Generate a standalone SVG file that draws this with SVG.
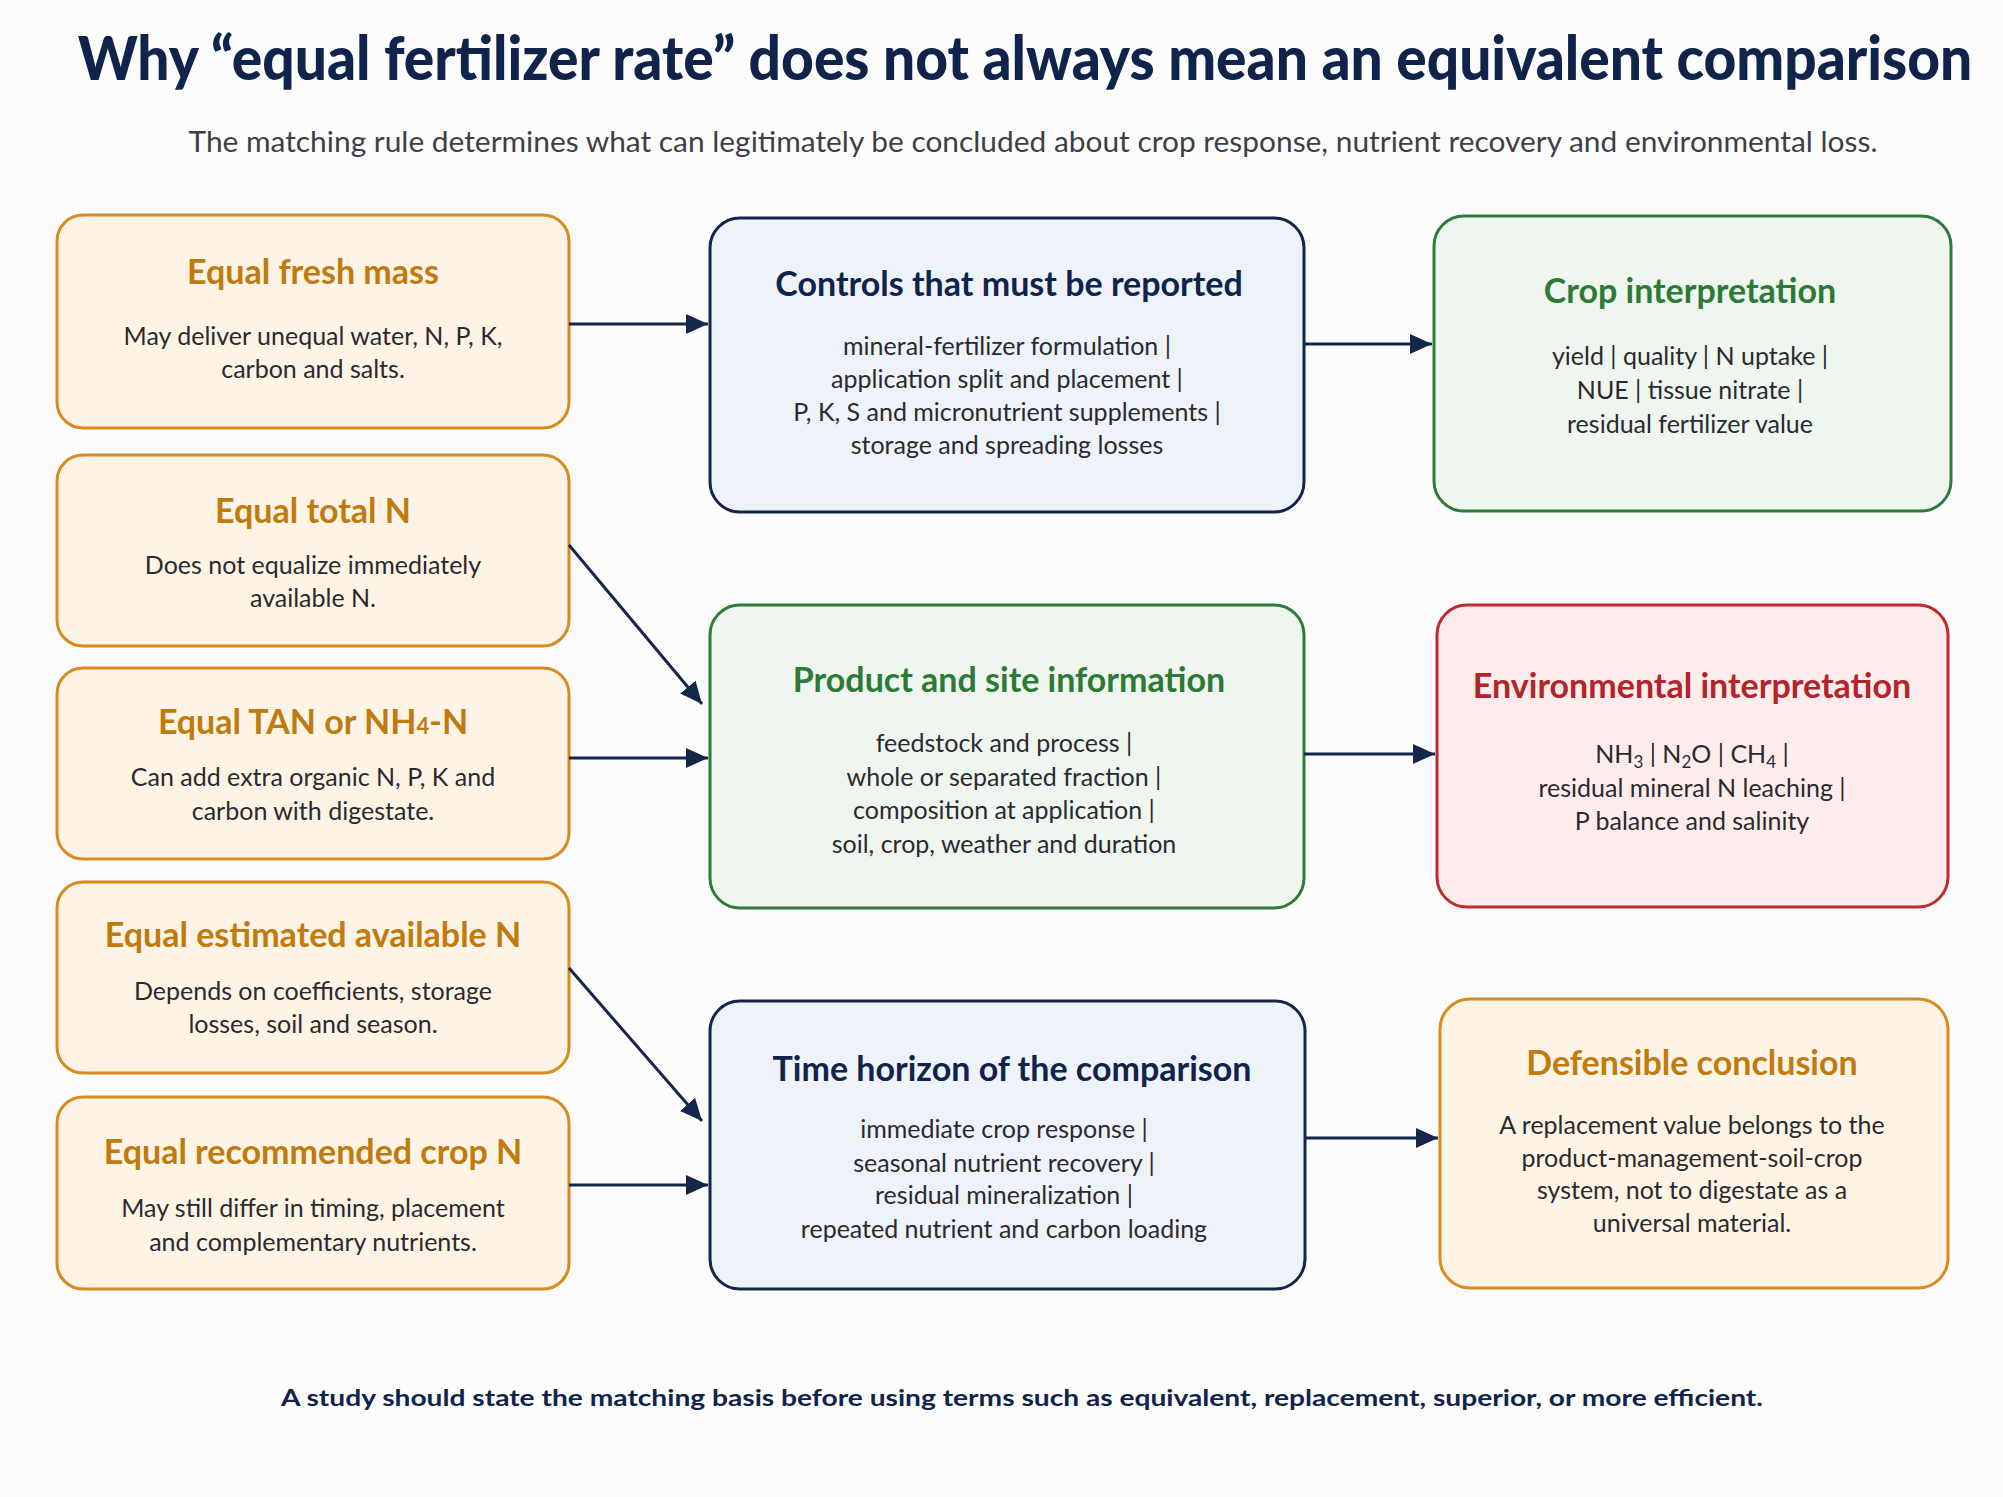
<svg xmlns="http://www.w3.org/2000/svg" width="2003" height="1497" viewBox="0 0 2003 1497">
<defs>
<marker id="ah" markerUnits="userSpaceOnUse" markerWidth="22" markerHeight="20" refX="22" refY="10" orient="auto">
<path d="M0,0 L22,10 L0,20 z" fill="#14264a"/>
</marker>
<style>
.main{font-family:Lato,"Liberation Sans",sans-serif;font-weight:900;fill:#10234a}
.sub{font-family:Lato,"Liberation Sans",sans-serif;font-size:29px;fill:#3c3f46}
.foot{font-family:Lato,"Liberation Sans",sans-serif;font-weight:700;font-size:22px;fill:#10234a}
.orange rect{fill:#fdf4e6;stroke:#d88b1e;stroke-width:3}
.blue rect{fill:#eef2f9;stroke:#15254a;stroke-width:3}
.green rect{fill:#eef6ef;stroke:#2e7a3c;stroke-width:3}
.red rect{fill:#fcedec;stroke:#bf2a30;stroke-width:3}
.t{font-family:Lato,"Liberation Sans",sans-serif;font-weight:700;font-size:34px;text-anchor:middle}
.orange .t{fill:#c07a0e}
.blue .t{fill:#10234a}
.green .t{fill:#2c7a35}
.red .t{fill:#b3232b}
.b{font-family:Lato,"Liberation Sans",sans-serif;font-size:25px;fill:#2a2a2e;text-anchor:middle}
.conn line{stroke:#14264a;stroke-width:3;marker-end:url(#ah)}
</style>
</defs>
<rect x="0" y="0" width="2003" height="1497" fill="#fcfcfc"/>
<text class="main" transform="matrix(0.86 0 0 1 1025 80)" x="0" y="0" font-size="60" text-anchor="middle" textLength="2203" lengthAdjust="spacingAndGlyphs">Why “equal fertilizer rate” does not always mean an equivalent comparison</text>
<text class="sub" x="1033" y="152" text-anchor="middle" textLength="1689" lengthAdjust="spacingAndGlyphs">The matching rule determines what can legitimately be concluded about crop response, nutrient recovery and environmental loss.</text>

<g id="n-fresh" class="orange">
<rect x="57" y="215" width="512" height="213" rx="26"/>
<text class="t" x="313" y="284">Equal fresh mass</text>
<text class="b" x="313" y="345">May deliver unequal water, N, P, K,</text>
<text class="b" x="313" y="378">carbon and salts.</text>
</g>
<g id="n-total" class="orange">
<rect x="57" y="455" width="512" height="191" rx="26"/>
<text class="t" x="313" y="523">Equal total N</text>
<text class="b" x="313" y="574">Does not equalize immediately</text>
<text class="b" x="313" y="607">available N.</text>
</g>
<g id="n-tan" class="orange">
<rect x="57" y="668" width="512" height="191" rx="26"/>
<text class="t" x="313" y="734">Equal TAN or NH<tspan font-size="22">4</tspan>-N</text>
<text class="b" x="313" y="786">Can add extra organic N, P, K and</text>
<text class="b" x="313" y="820">carbon with digestate.</text>
</g>
<g id="n-avail" class="orange">
<rect x="57" y="882" width="512" height="191" rx="26"/>
<text class="t" x="313" y="947" font-size="33">Equal estimated available N</text>
<text class="b" x="313" y="1000">Depends on coefficients, storage</text>
<text class="b" x="313" y="1033">losses, soil and season.</text>
</g>
<g id="n-rec" class="orange">
<rect x="57" y="1097" width="512" height="192" rx="26"/>
<text class="t" x="313" y="1164" font-size="33">Equal recommended crop N</text>
<text class="b" x="313" y="1217">May still differ in timing, placement</text>
<text class="b" x="313" y="1251">and complementary nutrients.</text>
</g>

<g id="n-controls" class="blue">
<rect x="710" y="218" width="594" height="294" rx="30"/>
<text class="t" x="1009" y="296">Controls that must be reported</text>
<text class="b" x="1007" y="355">mineral-fertilizer formulation |</text>
<text class="b" x="1007" y="388">application split and placement |</text>
<text class="b" x="1007" y="421">P, K, S and micronutrient supplements |</text>
<text class="b" x="1007" y="454">storage and spreading losses</text>
</g>
<g id="n-product" class="green">
<rect x="710" y="605" width="594" height="303" rx="30"/>
<text class="t" x="1009" y="692">Product and site information</text>
<text class="b" x="1004" y="752">feedstock and process |</text>
<text class="b" x="1004" y="786">whole or separated fraction |</text>
<text class="b" x="1004" y="819">composition at application |</text>
<text class="b" x="1004" y="853">soil, crop, weather and duration</text>
</g>
<g id="n-time" class="blue">
<rect x="710" y="1001" width="595" height="288" rx="30"/>
<text class="t" x="1012" y="1081">Time horizon of the comparison</text>
<text class="b" x="1004" y="1138">immediate crop response |</text>
<text class="b" x="1004" y="1172">seasonal nutrient recovery |</text>
<text class="b" x="1004" y="1204">residual mineralization |</text>
<text class="b" x="1004" y="1238">repeated nutrient and carbon loading</text>
</g>

<g id="n-crop" class="green">
<rect x="1434" y="216" width="517" height="295" rx="30"/>
<text class="t" x="1690" y="303">Crop interpretation</text>
<text class="b" x="1690" y="365">yield | quality | N uptake |</text>
<text class="b" x="1690" y="399">NUE | tissue nitrate |</text>
<text class="b" x="1690" y="433">residual fertilizer value</text>
</g>
<g id="n-env" class="red">
<rect x="1437" y="605" width="511" height="302" rx="30"/>
<text class="t" x="1692" y="698">Environmental interpretation</text>
<text class="b" x="1692" y="763">NH<tspan font-size="17" dy="5">3</tspan><tspan dy="-5"> | N</tspan><tspan font-size="17" dy="5">2</tspan><tspan dy="-5">O | CH</tspan><tspan font-size="17" dy="5">4</tspan><tspan dy="-5"> |</tspan></text>
<text class="b" x="1692" y="797">residual mineral N leaching |</text>
<text class="b" x="1692" y="830">P balance and salinity</text>
</g>
<g id="n-def" class="orange">
<rect x="1440" y="999" width="508" height="289" rx="30"/>
<text class="t" x="1692" y="1075">Defensible conclusion</text>
<text class="b" x="1692" y="1134">A replacement value belongs to the</text>
<text class="b" x="1692" y="1167">product-management-soil-crop</text>
<text class="b" x="1692" y="1199">system, not to digestate as a</text>
<text class="b" x="1692" y="1232">universal material.</text>
</g>

<g id="connectors" class="conn">
<line x1="569" y1="324" x2="708" y2="324"/>
<line x1="569" y1="545" x2="702" y2="704"/>
<line x1="569" y1="758" x2="708" y2="758"/>
<line x1="569" y1="968" x2="702" y2="1121"/>
<line x1="569" y1="1185" x2="708" y2="1185"/>
<line x1="1304" y1="344" x2="1432" y2="344"/>
<line x1="1304" y1="754" x2="1435" y2="754"/>
<line x1="1305" y1="1138" x2="1438" y2="1138"/>
</g>

<text class="foot" x="1022" y="1406" text-anchor="middle" textLength="1482" lengthAdjust="spacingAndGlyphs">A study should state the matching basis before using terms such as equivalent, replacement, superior, or more efficient.</text>
</svg>
